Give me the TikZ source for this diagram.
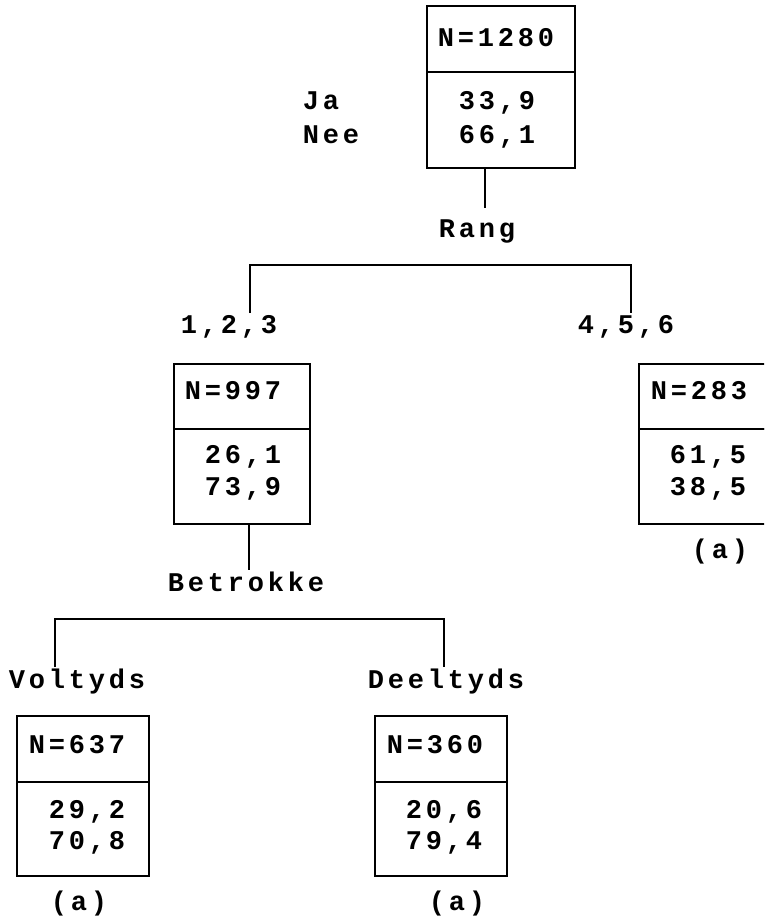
\documentclass[tikz,border=0pt]{standalone}
\usepackage{fontspec}
\newfontfamily\pfont{Liberation Mono}[LetterSpace=14]
\begin{document}
\begin{tikzpicture}[x=1pt,y=-1pt,
  line width=1.8pt,
  txt/.style={font=\pfont\bfseries\fontsize{27}{34}\selectfont, inner sep=0pt, anchor=base west},
  cellbox/.style={draw, line width=1.8pt, inner sep=0pt, anchor=north west, minimum width=#1},
  conn/.style={draw, line width=1.8pt}]
\path[use as bounding box] (0,0) rectangle (764,919);
\clip (0,0) rectangle (764,919);
% root box
\node[cellbox=148pt, minimum height=66pt] (rootTop) at (426,5) {};
\node[cellbox=148pt, minimum height=96pt] (rootBot) at (426,71) {};
\node[txt] (tN1280) at (437,46) {N=1280};
\node[txt] (t339) at (458,109) {33,9};
\node[txt] (t661) at (458,143) {66,1};
\node[txt] (tJa) at (302,109) {Ja};
\node[txt] (tNee) at (302,143) {Nee};
\node[txt] (tRang) at (438,237) {Rang};
% level 2
\node[txt] (t123) at (180,333) {1,2,3};
\node[txt] (t456) at (577,333) {4,5,6};
\node[cellbox=136pt, minimum height=65pt] (lTop) at (173,363) {};
\node[cellbox=136pt, minimum height=95pt] (lBot) at (173,428) {};
\node[txt] (tN997) at (184,399) {N=997};
\node[txt] (t261) at (204,463) {26,1};
\node[txt] (t739) at (204,495) {73,9};
\node[txt] (tBetrokke) at (167,591) {Betrokke};
\node[cellbox=140pt, minimum height=65pt] (rTop) at (638,363) {};
\node[cellbox=140pt, minimum height=95pt] (rBot) at (638,428) {};
\node[txt] (tN283) at (650,399) {N=283};
\node[txt] (t615) at (669,463) {61,5};
\node[txt] (t385) at (669,495) {38,5};
\node[txt] (ta1) at (691,558) {(a)};
% level 3
\node[txt] (tVol) at (8,688) {Voltyds};
\node[txt] (tDeel) at (367,688) {Deeltyds};
\node[cellbox=132pt, minimum height=66pt] (blTop) at (16,715) {};
\node[cellbox=132pt, minimum height=94pt] (blBot) at (16,781) {};
\node[txt] (tN637) at (28,753) {N=637};
\node[txt] (t292) at (48,818) {29,2};
\node[txt] (t708) at (48,849) {70,8};
\node[txt] (ta2) at (50,910) {(a)};
\node[cellbox=132pt, minimum height=66pt] (brTop) at (374,715) {};
\node[cellbox=132pt, minimum height=94pt] (brBot) at (374,781) {};
\node[txt] (tN360) at (386,753) {N=360};
\node[txt] (t206) at (405,818) {20,6};
\node[txt] (t794) at (405,849) {79,4};
\node[txt] (ta3) at (428,910) {(a)};
% connectors
\coordinate (rStemEnd) at (485,208);
\coordinate (bar1) at (440,265);
\coordinate (c123) at (250,313);
\coordinate (c456) at (631,313);
\draw[conn] (rStemEnd |- rootBot.south) -- (rStemEnd);
\draw[conn] (c123) |- (bar1) -| (c456);
\coordinate (lStemEnd) at (249,570);
\coordinate (bar2) at (250,619);
\coordinate (cVol) at (55,667);
\coordinate (cDeel) at (444,667);
\draw[conn] (lStemEnd |- lBot.south) -- (lStemEnd);
\draw[conn] (cVol) |- (bar2) -| (cDeel);
\end{tikzpicture}
\end{document}
